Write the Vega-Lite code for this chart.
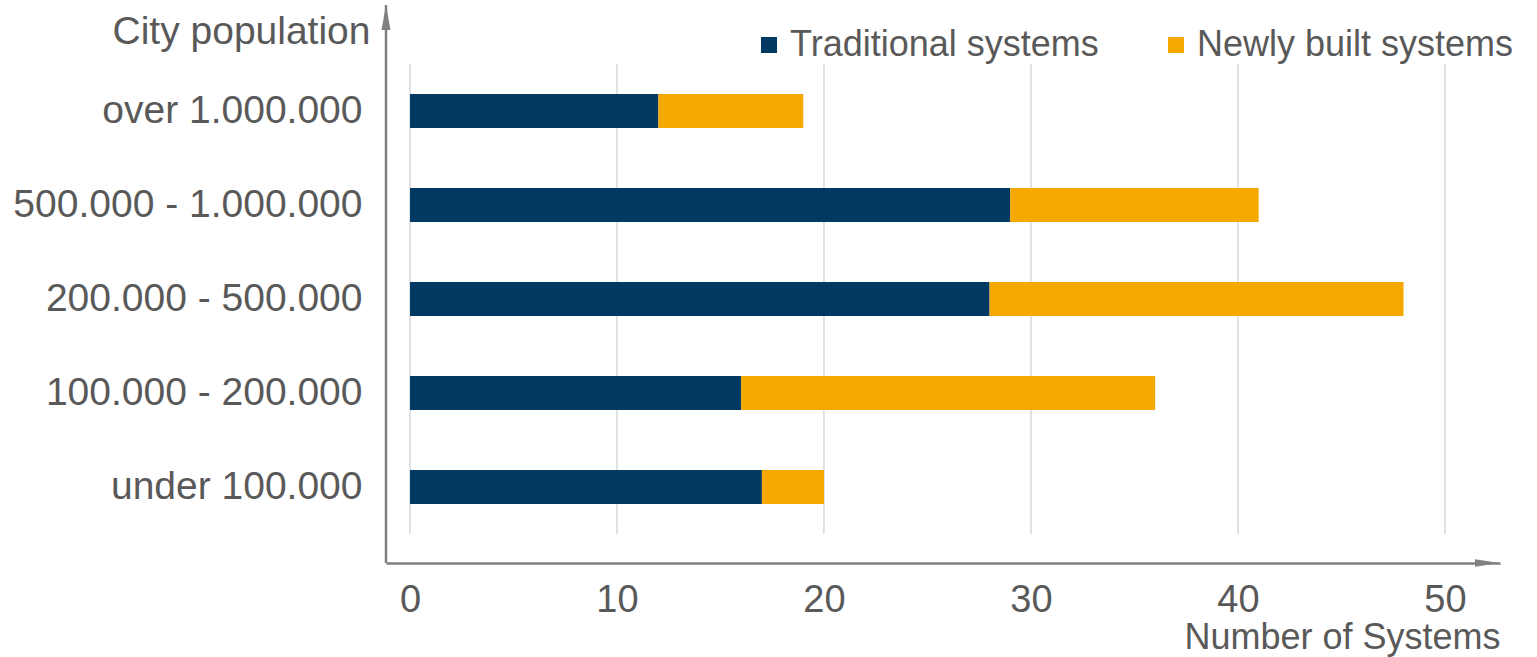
{
  "$schema": "https://vega.github.io/schema/vega-lite/v6.json",
  "width": 1114,
  "height": 558,
  "autosize": "none",
  "padding": {"left": 386, "top": 5, "right": 37, "bottom": 94},
  "background": "white",
  "config": {"font": "Liberation Sans", "view": {"stroke": null}},
  "layer": [
    {
      "data": {"values": [{"g": 0}, {"g": 10}, {"g": 20}, {"g": 30}, {"g": 40}, {"g": 50}]},
      "mark": {"type": "rule", "color": "#d9d9d9", "strokeWidth": 1.5},
      "encoding": {
        "x": {"field": "g", "type": "quantitative", "title": "Number of Systems"},
        "y": {"datum": "over 1.000.000", "type": "nominal", "bandPosition": -0.881},
        "y2": {"datum": "under 100.000", "bandPosition": 1.881}
      }
    },
    {
      "data": {
        "values": [
          {"city": "over 1.000.000", "type": "Traditional systems", "n": 12},
          {"city": "over 1.000.000", "type": "Newly built systems", "n": 7},
          {"city": "500.000 - 1.000.000", "type": "Traditional systems", "n": 29},
          {"city": "500.000 - 1.000.000", "type": "Newly built systems", "n": 12},
          {"city": "200.000 - 500.000", "type": "Traditional systems", "n": 28},
          {"city": "200.000 - 500.000", "type": "Newly built systems", "n": 20},
          {"city": "100.000 - 200.000", "type": "Traditional systems", "n": 16},
          {"city": "100.000 - 200.000", "type": "Newly built systems", "n": 20},
          {"city": "under 100.000", "type": "Traditional systems", "n": 17},
          {"city": "under 100.000", "type": "Newly built systems", "n": 3}
        ]
      },
      "mark": {"type": "bar"},
      "encoding": {
        "y": {
          "field": "city", "type": "nominal", "sort": null,
          "scale": {
            "domain": ["over 1.000.000", "500.000 - 1.000.000", "200.000 - 500.000", "100.000 - 200.000", "under 100.000"],
            "range": [59, 529], "paddingInner": 0.638, "paddingOuter": 0.319
          },
          "axis": {
            "title": "City population", "titleAngle": 0, "titleAlign": "right", "titleBaseline": "alphabetic",
            "titleX": -16, "titleY": 38, "titleFontSize": 39, "titleFontWeight": "normal", "titleColor": "#595959",
            "labelFontSize": 39, "labelColor": "#595959", "labelPadding": 24, "labelLimit": 400,
            "ticks": false, "domain": false, "grid": false
          }
        },
        "x": {
          "field": "n", "type": "quantitative", "stack": "zero",
          "scale": {"domain": [-1.16, 52.66], "nice": false, "zero": false},
          "axis": {
            "values": [0, 10, 20, 30, 40, 50],
            "title": "Number of Systems", "titleAnchor": "end", "titleAlign": "right", "titleBaseline": "alphabetic",
            "titleX": 1114, "titleY": 85, "titleFontSize": 36, "titleFontWeight": "normal", "titleColor": "#595959",
            "labelFontSize": 38, "labelColor": "#595959", "labelPadding": 18,
            "ticks": false, "grid": false,
            "domainColor": "#808080", "domainWidth": 2.5
          }
        },
        "color": {
          "field": "type", "type": "nominal",
          "sort": ["Traditional systems", "Newly built systems"],
          "scale": {"domain": ["Traditional systems", "Newly built systems"], "range": ["#003a63", "#f5a800"]},
          "legend": {
            "orient": "none", "legendX": 365, "legendY": 22, "direction": "horizontal", "title": null,
            "symbolType": "square", "symbolSize": 256, "symbolStrokeWidth": 0,
            "labelFontSize": 36, "labelColor": "#595959", "labelOffset": 3, "labelLimit": 1000,
            "columnPadding": 59, "padding": 0
          }
        },
        "order": {"field": "type", "sort": "descending"}
      }
    },
    {
      "data": {"values": [{}]},
      "mark": {"type": "rule", "color": "#808080", "strokeWidth": 2.5},
      "encoding": {"x": {"value": 0}}
    },
    {
      "data": {"values": [{}]},
      "mark": {"type": "point", "shape": "M0,0L0.36,2L-0.36,2Z", "size": 625, "filled": true, "color": "#808080", "opacity": 1},
      "encoding": {"x": {"value": 0}, "y": {"value": 0}}
    },
    {
      "data": {"values": [{}]},
      "mark": {"type": "point", "shape": "M0,0L-2,-0.3L-2,0.3Z", "size": 625, "filled": true, "color": "#808080", "opacity": 1},
      "encoding": {"x": {"value": "width"}, "y": {"value": "height"}}
    }
  ]
}
